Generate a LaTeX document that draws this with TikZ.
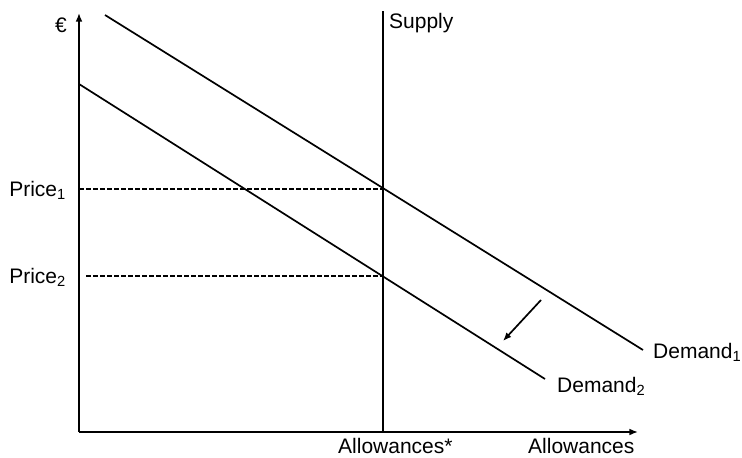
\documentclass[tikz,border=0pt]{standalone}
\usepackage{fontspec}
\setmainfont{Liberation Sans}
\usetikzlibrary{arrows.meta,positioning}

\begin{document}
\begin{tikzpicture}[
  x=1pt,y=-1pt,
  axis/.style={-{Latex[length=3mm,width=2.4mm]},line width=2pt},
  curve/.style={line width=1.7pt},
  guide/.style={line width=1.4pt,dash pattern=on 4.5pt off 2.5pt},
  shiftarrow/.style={-{Latex[length=3mm,width=2.4mm]},line width=1.7pt},
  lbl/.style={font=\fontsize{21}{23}\selectfont,inner sep=0pt}
]
  \useasboundingbox (0,0) rectangle (742,458);
  % axes
  \coordinate (origin) at (79,432);
  \coordinate (ytop) at (79,13);
  \coordinate (xend) at (638,432);
  \draw[axis] (origin) -- (ytop);
  \draw[axis] (origin) -- (xend);
  % supply
  \coordinate (supplytop) at (383,11);
  \coordinate (supplybot) at (383,432);
  \draw[curve] (supplybot) -- (supplytop);
  % demand curves
  \coordinate (d1start) at (105,15);
  \coordinate (d1end) at (643,350);
  \coordinate (d2start) at (79,84);
  \coordinate (d2end) at (545,379);
  \draw[curve] (d1start) -- (d1end);
  \draw[curve] (d2start) -- (d2end);
  % price guides
  \coordinate (p1left) at (79,189);
  \coordinate (p1right) at (383,189);
  \coordinate (p2left) at (86,276);
  \coordinate (p2right) at (383,276);
  \draw[guide] (p1left) -- (p1right);
  \draw[guide] (p2left) -- (p2right);
  % shift of demand
  \coordinate (shiftfrom) at (541,300);
  \coordinate (shiftto) at (503,341);
  \draw[shiftarrow] (shiftfrom) -- (shiftto);
  % labels
  \node[lbl,anchor=base east] (euro) at (67,32) {€};
  \node[lbl,anchor=base east] (price1) at (66,196.5) {Price\textsubscript{1}};
  \node[lbl,anchor=base east] (price2) at (66,283.5) {Price\textsubscript{2}};
  \node[lbl,anchor=base west] (supply) at (389,28) {Supply};
  \node[lbl,anchor=base west] (demand1) at (653,358) {Demand\textsubscript{1}};
  \node[lbl,anchor=base west] (demand2) at (557,392) {Demand\textsubscript{2}};
  \node[lbl,anchor=base west] (allowstar) at (338,453) {Allowances*};
  \node[lbl,anchor=base west] (allow) at (528,453) {Allowances};
\end{tikzpicture}
\end{document}
